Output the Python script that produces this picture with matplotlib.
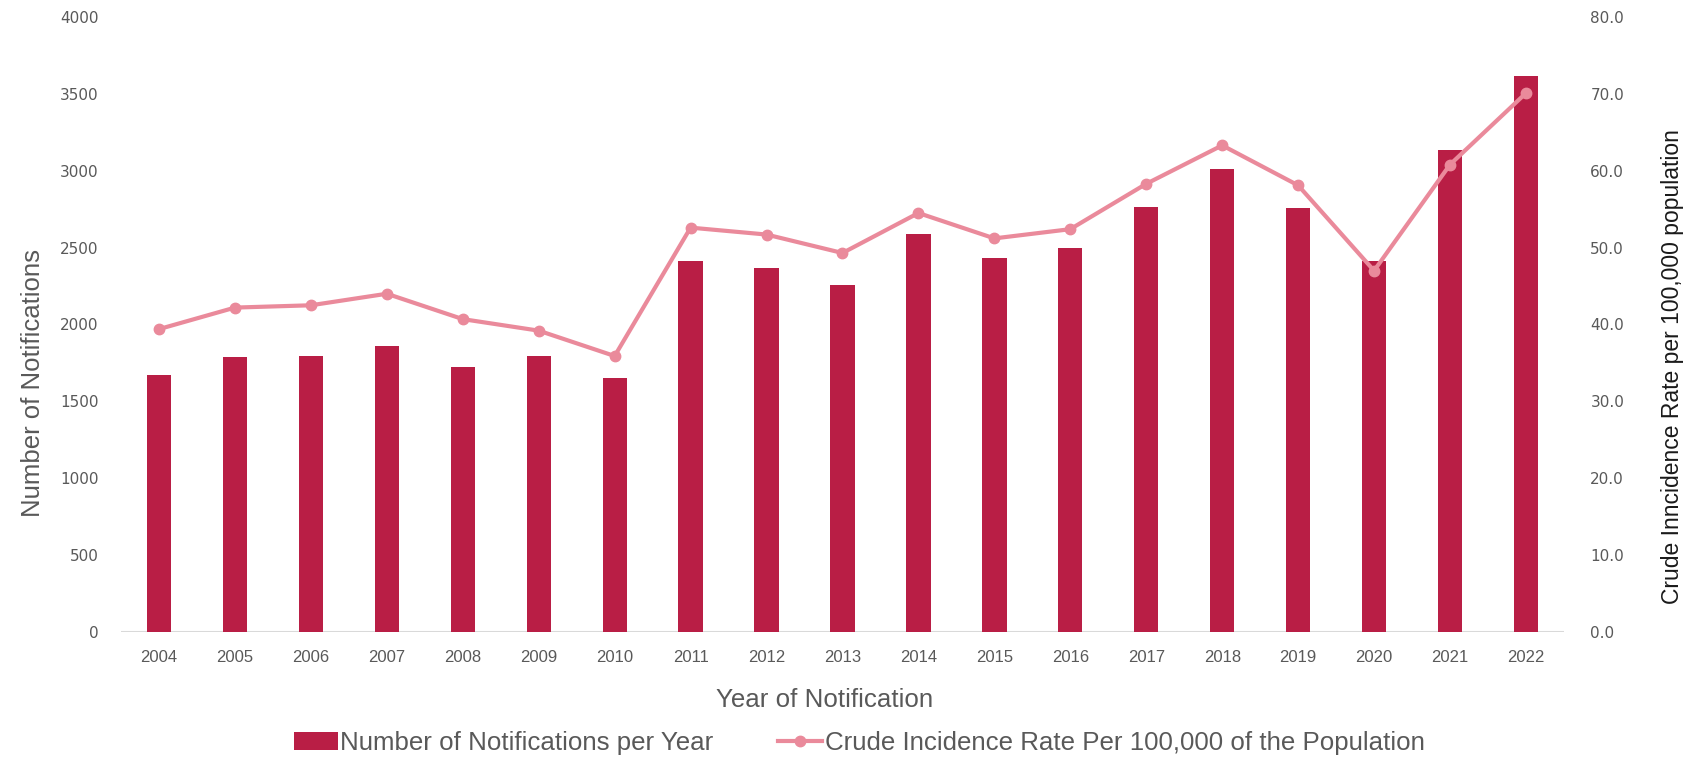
import matplotlib
matplotlib.use('Agg')
import numpy as np
import matplotlib.pyplot as plt

# Data
years = ['2004', '2005', '2006', '2007', '2008', '2009', '2010', '2011', '2012', '2013',
         '2014', '2015', '2016', '2017', '2018', '2019', '2020', '2021', '2022']
notifications = [1670, 1787, 1798, 1859, 1724, 1798, 1652, 2413, 2370, 2254,
                 2591, 2435, 2498, 2767, 3009, 2759, 2413, 3135, 3613]
rate = [39.4, 42.2, 42.5, 44.0, 40.7, 39.2, 35.9, 52.6, 51.7, 49.3,
        54.5, 51.2, 52.4, 58.3, 63.3, 58.1, 47.0, 60.8, 70.1]
left_ticks = [0, 500, 1000, 1500, 2000, 2500, 3000, 3500, 4000]
right_ticks = [0, 10, 20, 30, 40, 50, 60, 70, 80]

bar_color = '#B91E45'
line_color = '#EA8A9B'
grey = '#595959'
font = ['Liberation Sans', 'DejaVu Sans']

fig = plt.figure(figsize=(16.88, 7.58), dpi=100)
ax = fig.add_axes([0.0717, 0.1662, 0.8548, 0.8114])
ax2 = ax.twinx()

x = np.arange(len(years))
bars = ax.bar(x, notifications, width=0.32, color=bar_color, zorder=2,
              label='Number of Notifications per Year')
line, = ax2.plot(x, rate, color=line_color, lw=3.0, marker='o', ms=7.5,
                 zorder=3, label='Crude Incidence Rate Per 100,000 of the Population')

ax.set_xlim(-0.5, len(years) - 0.5)
ax.set_ylim(0, 4000)
ax2.set_ylim(0, 80)

# only a light baseline, no frame
for a in (ax, ax2):
    for s in ('top', 'left', 'right', 'bottom'):
        a.spines[s].set_visible(False)
ax.axhline(0, color='#D9D9D9', lw=1.5, zorder=1)

ax.set_xticks(x)
ax.set_xticklabels(years, fontsize=12, color=grey, family=font)
ax.tick_params(axis='x', length=0, pad=13)

ax.set_yticks(left_ticks)
ax.set_yticklabels([str(t) for t in left_ticks], fontsize=11, color=grey,
                   family='DejaVu Sans')
ax.tick_params(axis='y', length=0, pad=16)

ax2.set_yticks(right_ticks)
ax2.set_yticklabels(['{:.1f}'.format(t) for t in right_ticks], fontsize=11,
                    color=grey, family='DejaVu Sans')
ax2.tick_params(axis='y', length=0, pad=19)

ax.set_ylabel('Number of Notifications', fontsize=18.5, color=grey, family=font)
ax.yaxis.set_label_coords(-0.0527, 0.405)
ax2.set_ylabel('Crude Inncidence Rate per 100,000 population', fontsize=16.5,
               color='#1a1a1a', family=font)
ax2.yaxis.set_label_coords(1.0672, 0.431)

fig.text(825 / 1688, 1 - 700 / 758, 'Year of Notification', fontsize=18.6,
         color=grey, family=font, ha='center', va='center')

fig.legend([bars, line], [bars.get_label(), line.get_label()],
           loc='center', bbox_to_anchor=(0.509, 1 - 743 / 758), ncol=2,
           frameon=False, handlelength=1.7, handletextpad=0.1,
           columnspacing=2.5, labelcolor=grey, prop={'family': font, 'size': 18.6})

fig.savefig('out.png', dpi=100)
